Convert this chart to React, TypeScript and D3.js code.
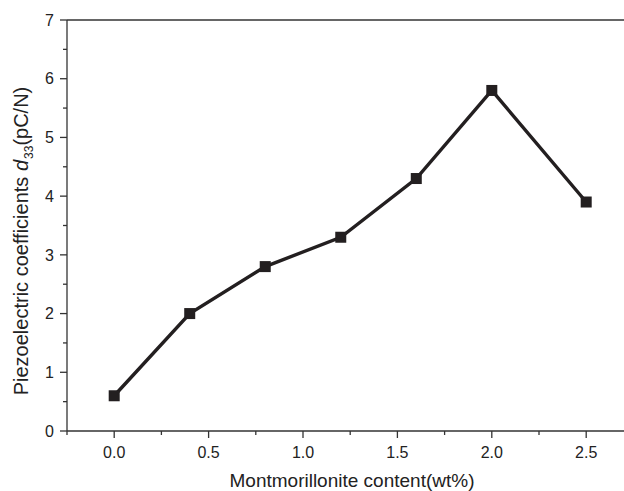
import React from "react";
import * as d3 from "d3";

const contents = [0.0, 0.4, 0.8, 1.2, 1.6, 2.0, 2.5];
const d33 = [0.6, 2.0, 2.8, 3.3, 4.3, 5.8, 3.9];
const xTicks = [0.0, 0.5, 1.0, 1.5, 2.0, 2.5];
const xMinorTicks = [-0.25, 0.25, 0.75, 1.25, 1.75, 2.25, 2.75];
const yTicks = [0, 1, 2, 3, 4, 5, 6, 7];
const yMinorTicks = [0.5, 1.5, 2.5, 3.5, 4.5, 5.5, 6.5];

const W = 624;
const H = 491;
const left = 67;
const top = 20;
const bottom = 431;
const color = "#231f20";

export default function App() {
  const x = d3.scaleLinear().domain([-0.25, 2.75]).range([left, left + 3 * 188.8]);
  const y = d3.scaleLinear().domain([0, 7]).range([bottom, top]);
  const line = d3
    .line<number>()
    .x((_, i) => x(contents[i]))
    .y((v) => y(v));
  const font = "'Liberation Sans', Arial, sans-serif";
  return (
    <svg
      width={W}
      height={H}
      style={{ position: "absolute", left: 0, top: 0, background: "#fff" }}
      fontFamily={font}
    >
      {/* axes lines */}
      <line x1={left} x2={W} y1={top} y2={top} stroke="#333" strokeWidth={1.3} />
      <line x1={left} x2={W} y1={bottom} y2={bottom} stroke="#333" strokeWidth={1.3} />
      <line x1={left} x2={left} y1={top} y2={bottom} stroke="#333" strokeWidth={1.3} />
      {/* x ticks */}
      {xTicks.map((t) => (
        <g key={"xt" + t}>
          <line x1={x(t)} x2={x(t)} y1={bottom} y2={bottom + 7} stroke="#333" strokeWidth={1.3} />
          <text x={x(t)} y={458} textAnchor="middle" fontSize={16} fill="#222">
            {t.toFixed(1)}
          </text>
        </g>
      ))}
      {xMinorTicks.map((t) => (
        <line key={"xm" + t} x1={x(t)} x2={x(t)} y1={bottom} y2={bottom + 4} stroke="#333" strokeWidth={1.3} />
      ))}
      {/* y ticks */}
      {yTicks.map((t) => (
        <g key={"yt" + t}>
          <line x1={left - 7} x2={left} y1={y(t)} y2={y(t)} stroke="#333" strokeWidth={1.3} />
          <text x={left - 13} y={y(t)} dy="0.36em" textAnchor="end" fontSize={16} fill="#222">
            {t}
          </text>
        </g>
      ))}
      {yMinorTicks.map((t) => (
        <line key={"ym" + t} x1={left - 4} x2={left} y1={y(t)} y2={y(t)} stroke="#333" strokeWidth={1.3} />
      ))}
      {/* series */}
      <path d={line(d33) || ""} fill="none" stroke={color} strokeWidth={3.4} strokeLinejoin="miter" />
      {d33.map((v, i) => (
        <rect key={"p" + i} x={x(contents[i]) - 5.5} y={y(v) - 5.5} width={11} height={11} fill={color} />
      ))}
      {/* titles */}
      <text x={352} y={487} textAnchor="middle" fontSize={19} fill="#222">
        Montmorillonite content(wt%)
      </text>
      <text
        transform="translate(28,241) rotate(-90)"
        textAnchor="middle"
        fontSize={20}
        fill="#222"
      >
        Piezoelectric coefficients <tspan fontStyle="italic">d</tspan>
        <tspan fontSize={12} dy={5} dx={1}>33</tspan>
        <tspan dy={-5}>(pC/N)</tspan>
      </text>
    </svg>
  );
}
